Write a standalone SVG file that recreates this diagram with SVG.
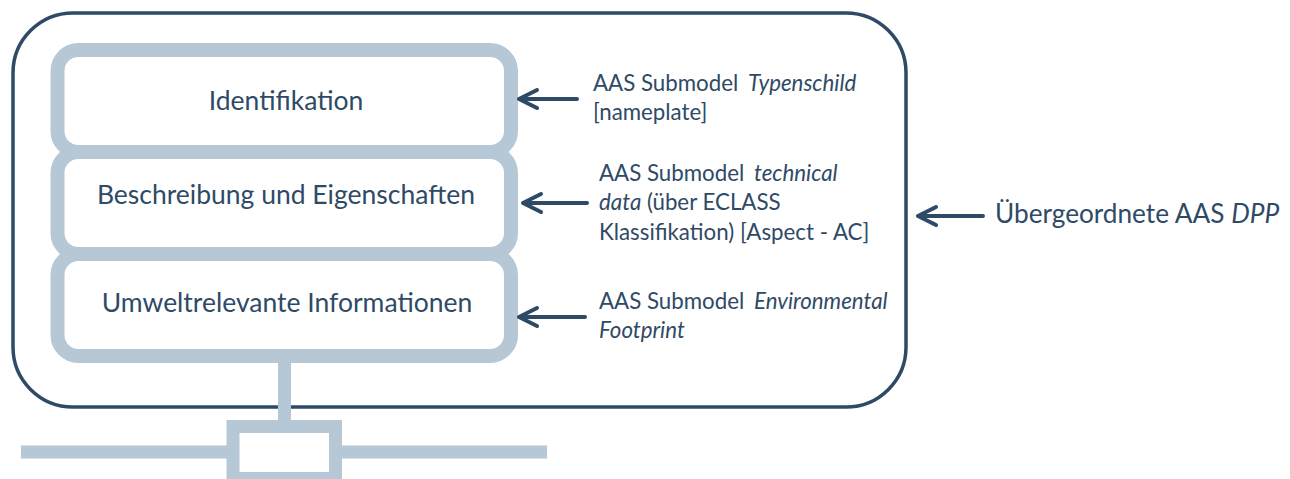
<svg xmlns="http://www.w3.org/2000/svg" width="1290" height="479" viewBox="0 0 1290 479">
<style>
.frame{fill:none;stroke:#2F4A66;stroke-width:3.5}
.box{fill:#FFFFFF;stroke:#B6C8D6;stroke-width:14}
.bar{fill:none;stroke:#B6C8D6;stroke-width:13}
.arrow{fill:none;stroke:#2F4A66;stroke-width:4;stroke-linecap:round;stroke-linejoin:round}
.t{font-family:Lato,"Open Sans",sans-serif;fill:#2F4A66}
.big{font-size:26.5px}
.dpp{font-size:26.2px}
.small{font-size:22.3px}
.it{font-style:italic}
</style>
<rect width="1290" height="479" fill="#FFFFFF"/>
<g id="frame">
<rect class="frame" x="13" y="13" width="893" height="394" rx="60" ry="60"/>
</g>
<g id="bus">
<line class="bar" x1="21" y1="452" x2="547" y2="452"/>
<line class="bar" x1="284.5" y1="356" x2="284.5" y2="426"/>
<rect x="233" y="426.5" width="102.5" height="52" fill="#FFFFFF" stroke="#B6C8D6" stroke-width="13"/>
</g>
<g id="node-identifikation">
<rect class="box" x="57.5" y="50" width="453.5" height="102" rx="21" ry="21"/>
<text class="t big" x="286" y="110" text-anchor="middle">Identifikation</text>
</g>
<g id="node-beschreibung">
<rect class="box" x="57.5" y="152" width="453.5" height="102" rx="21" ry="21"/>
<text class="t big" x="286" y="204" text-anchor="middle">Beschreibung und Eigenschaften</text>
</g>
<g id="node-umwelt">
<rect class="box" x="57.5" y="254" width="453.5" height="102" rx="21" ry="21"/>
<text class="t big" x="287" y="312" text-anchor="middle">Umweltrelevante Informationen</text>
</g>
<g id="connectors">
<path class="arrow" d="M577 99 H519 M537 90 L519 99 L537 108"/>
<path class="arrow" d="M587 203 H523 M541 194 L523 203 L541 212"/>
<path class="arrow" d="M585 317 H519 M537 308 L519 317 L537 326"/>
<path class="arrow" d="M983 216 H918 M936 207 L918 216 L936 225"/>
</g>
<g id="label-typenschild">
<text class="t small" x="593" y="91">AAS Submodel <tspan class="it" dx="4">Typenschild</tspan></text>
<text class="t small" x="593" y="120">[nameplate]</text>
</g>
<g id="label-technical">
<text class="t small" x="599" y="181">AAS Submodel <tspan class="it" dx="4">technical</tspan></text>
<text class="t small" x="599" y="210"><tspan class="it">data</tspan> (über ECLASS</text>
<text class="t small" x="599" y="240">Klassifikation) [Aspect - AC]</text>
</g>
<g id="label-environmental">
<text class="t small" x="599" y="309">AAS Submodel <tspan class="it" dx="4">Environmental</tspan></text>
<text class="t small" x="599" y="338"><tspan class="it">Footprint</tspan></text>
</g>
<g id="label-dpp">
<text class="t dpp" x="995" y="223">Übergeordnete AAS <tspan class="it">DPP</tspan></text>
</g>
</svg>
